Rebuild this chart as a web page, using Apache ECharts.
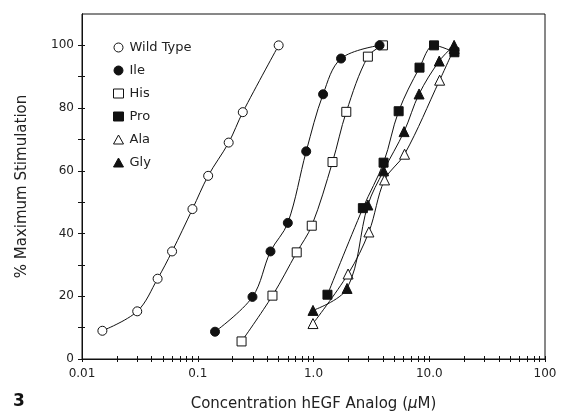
<!DOCTYPE html>
<html>
<head>
<meta charset="utf-8">
<script src="https://cdn.jsdelivr.net/npm/echarts@6/dist/echarts.min.js"></script>
<style>
  html, body { margin: 0; padding: 0; background: #fff; }
  #chart { width: 562px; height: 417px; }
</style>
</head>
<body>
<div id="chart"></div>
<script>
// concentration (uM) / % maximum stimulation
var wildType = [[0.015, 9], [0.03, 15.2], [0.045, 25.6], [0.06, 34.3], [0.09, 47.8],
                [0.123, 58.4], [0.185, 69], [0.245, 78.7], [0.5, 100]];
var ile = [[0.141, 8.7], [0.297, 19.8], [0.425, 34.3], [0.6, 43.4], [0.865, 66.2],
           [1.21, 84.4], [1.73, 95.8], [3.72, 100]];
var his = [[0.239, 5.6], [0.442, 20.2], [0.716, 34], [0.966, 42.5], [1.46, 62.8],
           [1.92, 78.8], [2.95, 96.4], [3.98, 100]];
var pro = [[1.32, 20.5], [2.67, 48.1], [4.03, 62.6], [5.44, 79], [8.24, 92.9],
           [11.0, 100], [16.5, 97.8]];
var ala = [[0.99, 11.3], [1.99, 27.1], [3.01, 40.5], [4.11, 57.1], [6.12, 65.3],
           [12.3, 88.9], [16.4, 99]];
var gly = [[0.99, 15.5], [1.95, 22.5], [2.95, 49.1], [4.03, 60], [6.06, 72.5],
           [8.17, 84.5], [12.2, 95], [16.4, 100]];

var xLabels = { 0.01: '0.01', 0.1: '0.1', 1: '1.0', 10: '10.0', 100: '100' };
var yLabels = [0, 20, 40, 60, 80, 100];

// 1..9 ticks in every decade
var xTicks = [];
for (var n = -2; n < 2; n++) {
    for (var k = 1; k < 10; k++) {
        xTicks.push(parseFloat((k * Math.pow(10, n)).toPrecision(3)));
    }
}
xTicks.push(100);
var yTicks = [0, 10, 20, 30, 40, 50, 60, 70, 80, 90, 100];

var font = 'DejaVu Sans';
var ink = '#111';

function mk(name, data, symbol, filled) {
    return {
        name: name,
        type: 'line',
        data: data,
        smooth: 0.35,
        symbol: symbol,
        symbolSize: symbol === 'triangle' ? 10 : 9,
        lineStyle: { color: ink, width: 1 },
        itemStyle: { color: filled ? ink : '#fff', borderColor: ink, borderWidth: 1 },
        z: filled ? 3 : 2
    };
}

var legendItems = [
    ['Wild Type', 'circle', false], ['Ile', 'circle', true], ['His', 'rect', false],
    ['Pro', 'rect', true], ['Ala', 'triangle', false], ['Gly', 'triangle', true]
];

var baseX = {
    type: 'log', logBase: 10, min: 0.01, max: 100,
    position: 'bottom',
    axisLine: { lineStyle: { color: ink, width: 1 } },
    splitLine: { show: false },
    minorTick: { show: false }
};
var baseY = {
    type: 'value', min: 0, max: 110,
    position: 'left',
    axisLine: { show: true, lineStyle: { color: ink, width: 1 } },
    splitLine: { show: false }
};

var option = {
    backgroundColor: '#fff',
    animation: false,
    title: {
        text: '3', left: 8, top: 388,
        textStyle: { fontFamily: font, fontSize: 17, fontWeight: 'bold', color: ink }
    },
    grid: { left: 82, right: 17, top: 14, bottom: 57, show: true, borderColor: ink, borderWidth: 1 },
    legend: {
        orient: 'vertical', left: 108, top: 36,
        itemWidth: 10, itemHeight: 9, itemGap: 10,
        textStyle: { fontFamily: font, fontSize: 13, color: '#222', padding: [0, 0, 0, 1] },
        data: legendItems.map(function (d) {
            return {
                name: d[0], icon: d[1],
                itemStyle: { color: d[2] ? ink : '#fff', borderColor: ink, borderWidth: 1 }
            };
        })
    },
    xAxis: [
        Object.assign({}, baseX, {
            name: 'Concentration hEGF Analog ({i|\u03bc}M)',
            nameLocation: 'middle', nameGap: 38,
            nameTextStyle: {
                fontFamily: font, fontSize: 15, color: '#222',
                rich: { i: { fontFamily: font, fontSize: 15, fontStyle: 'italic', color: '#222' } }
            },
            axisTick: { show: true, inside: false, length: 3, customValues: xTicks, lineStyle: { color: ink } },
            axisLabel: {
                margin: 9, fontFamily: font, fontSize: 12, color: '#222',
                customValues: [0.01, 0.1, 1, 10, 100],
                formatter: function (v) { return xLabels[v] || ''; }
            }
        }),
        Object.assign({}, baseX, {
            axisTick: { show: true, inside: true, length: 3, customValues: xTicks, lineStyle: { color: ink } },
            axisLabel: { show: false }
        })
    ],
    yAxis: [
        Object.assign({}, baseY, {
            name: '% Maximum Stimulation',
            nameLocation: 'middle', nameGap: 52,
            nameTextStyle: { fontFamily: font, fontSize: 15, color: '#222' },
            axisTick: { show: true, inside: false, length: 4, customValues: yTicks, lineStyle: { color: ink } },
            axisLabel: { margin: 8, fontFamily: font, fontSize: 12, color: '#222', customValues: yLabels }
        }),
        Object.assign({}, baseY, {
            axisTick: { show: true, inside: true, length: 3, customValues: yTicks, lineStyle: { color: ink } },
            axisLabel: { show: false }
        })
    ],
    series: [
        mk('Wild Type', wildType, 'circle', false),
        mk('Ile', ile, 'circle', true),
        mk('His', his, 'rect', false),
        mk('Pro', pro, 'rect', true),
        mk('Ala', ala, 'triangle', false),
        mk('Gly', gly, 'triangle', true)
    ]
};

var myChart = echarts.init(document.getElementById('chart'));
myChart.setOption(option);
</script>
</body>
</html>
